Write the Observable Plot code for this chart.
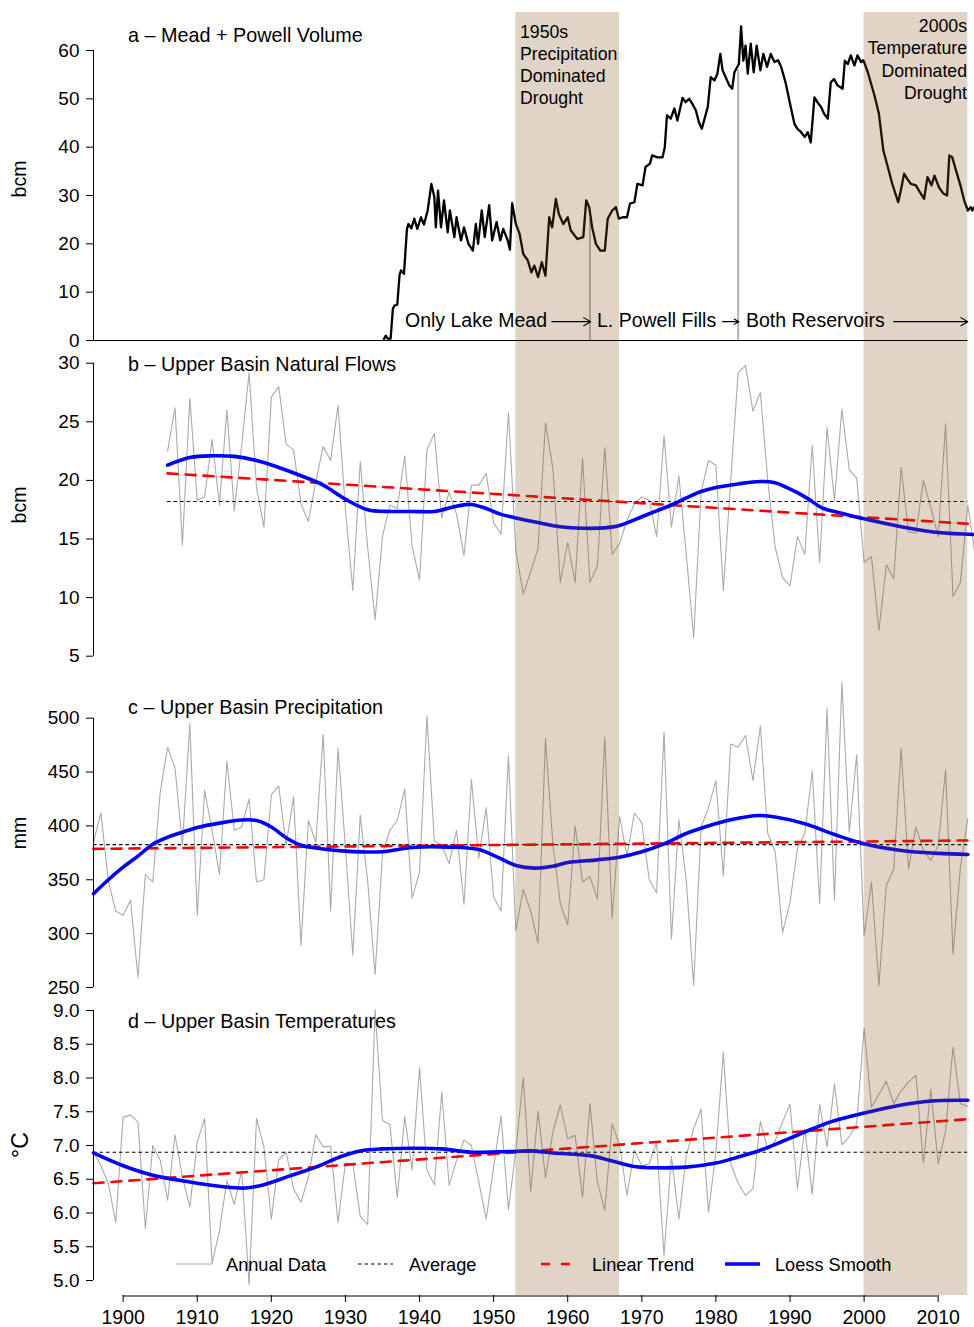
<!DOCTYPE html>
<html><head><meta charset="utf-8">
<script src="https://cdn.jsdelivr.net/npm/d3@7"></script>
<script src="https://cdn.jsdelivr.net/npm/@observablehq/plot@0.6"></script>
<style>
body{margin:0;background:#fff;}
#wrap{position:relative;width:974px;height:1327px;overflow:hidden;font-family:"Liberation Sans",Arial,Helvetica,sans-serif;color:#000;}
.t{position:absolute;white-space:nowrap;line-height:1;}
</style></head><body><div id="wrap"></div>
<script>
const FONT = '"Liberation Sans",Arial,Helvetica,sans-serif';

// ---------- data ----------
const bands = [{x1: 1953, x2: 1967}, {x1: 2000, x2: 2014}];

// a: Mead + Powell volume (bcm), [year, value]
const volume = [[1935.2,0.3],[1935.45,1.0],[1935.7,0.4],[1936.1,0.4],[1936.4,6.5],[1936.6,7.2],[1937.0,7.4],[1937.3,13.5],[1937.5,14.5],[1937.9,13.8],[1938.3,23.0],[1938.5,24.1],[1938.9,23.2],[1939.3,25.2],[1939.7,23.1],[1940.2,25.5],[1940.6,24.0],[1941.1,26.9],[1941.6,32.4],[1942.0,29.7],[1942.2,23.4],[1942.5,31.0],[1942.9,23.4],[1943.3,29.0],[1943.8,22.4],[1944.1,26.9],[1944.7,21.4],[1945.0,25.5],[1945.6,20.7],[1946.0,23.4],[1946.6,20.0],[1947.2,18.6],[1947.6,24.1],[1947.9,20.0],[1948.4,26.9],[1948.8,21.4],[1949.4,28.0],[1949.8,20.7],[1950.4,24.5],[1950.9,20.7],[1951.3,23.1],[1951.9,20.7],[1952.2,18.8],[1952.5,28.4],[1953.0,24.1],[1953.5,22.1],[1954.0,17.9],[1954.6,16.6],[1955.1,14.1],[1955.5,15.5],[1956.0,13.1],[1956.5,16.2],[1957.0,13.4],[1957.5,25.5],[1957.9,23.4],[1958.4,29.3],[1958.8,26.2],[1959.4,24.1],[1960.0,25.5],[1960.4,22.8],[1961.3,21.0],[1962.1,21.4],[1962.5,29.0],[1962.9,27.6],[1963.3,23.4],[1963.8,20.0],[1964.4,18.6],[1965.0,18.6],[1965.4,25.2],[1966.0,26.9],[1966.5,27.6],[1966.9,25.2],[1967.4,25.5],[1968.0,25.5],[1968.4,28.3],[1969.0,28.6],[1969.4,32.4],[1970.1,32.1],[1970.5,35.9],[1971.1,36.6],[1971.4,38.3],[1972.1,37.9],[1972.8,37.9],[1973.1,40.0],[1973.4,46.6],[1973.9,45.9],[1974.4,48.0],[1974.8,45.5],[1975.5,50.2],[1975.9,49.3],[1976.4,50.0],[1976.8,49.0],[1977.3,47.6],[1977.7,45.2],[1978.1,43.8],[1978.4,45.5],[1978.9,48.3],[1979.3,54.5],[1979.8,53.8],[1980.2,55.2],[1980.6,59.3],[1980.9,55.9],[1981.3,54.5],[1981.8,52.8],[1982.2,52.1],[1982.5,55.5],[1983.1,57.2],[1983.4,65.0],[1983.7,57.9],[1984.0,61.0],[1984.3,55.2],[1984.7,61.4],[1985.1,55.5],[1985.5,61.0],[1986.0,55.9],[1986.4,59.3],[1986.9,56.6],[1987.4,59.3],[1987.9,57.6],[1988.4,58.0],[1988.8,56.6],[1989.4,53.4],[1990.1,48.3],[1990.6,44.8],[1991.0,43.8],[1991.5,43.1],[1992.0,42.1],[1992.4,43.1],[1992.8,41.0],[1993.3,50.3],[1993.7,49.3],[1994.2,48.3],[1994.6,46.9],[1995.1,45.9],[1995.5,53.4],[1995.95,54.1],[1996.4,52.8],[1997.1,52.1],[1997.4,57.9],[1997.8,57.2],[1998.2,59.0],[1998.7,56.9],[1999.1,59.0],[1999.6,57.6],[1999.9,58.0],[2000.5,55.5],[2001.4,50.7],[2002.0,46.9],[2002.6,39.3],[2003.2,35.9],[2003.8,32.4],[2004.6,28.6],[2004.95,31.0],[2005.4,34.5],[2005.85,33.4],[2006.3,32.4],[2007.0,32.1],[2007.4,31.0],[2008.1,29.3],[2008.55,33.8],[2009.1,32.1],[2009.5,34.1],[2010.1,31.7],[2010.7,30.4],[2011.2,30.0],[2011.5,38.3],[2011.9,37.9],[2012.4,35.2],[2013.0,32.1],[2013.5,29.0],[2014.0,26.9],[2014.4,27.6],[2014.6,26.9],[2014.8,27.5]];
const powellMarks = [{year: 1963, v: 25}, {year: 1983, v: 56}];
const arrowsA = [{x1: 1957.85, x2: 1963.1, y: 3.9}, {x1: 1980.9, x2: 1983.1, y: 3.9}, {x1: 2004.0, x2: 2014.0, y: 3.9}];

// b: Upper Basin natural flows (bcm), 1906-2015
const flowStart = 1906;
const flows = [22.5,26.2,14.5,27.0,18.3,18.6,23.5,17.9,26.0,17.4,23.0,29.2,19.4,16.0,27.1,28.0,23.1,22.6,18.0,16.5,19.9,22.9,21.7,26.4,17.5,10.6,21.6,14.3,8.1,15.2,17.9,17.6,22.1,14.4,11.5,22.6,24.0,16.8,19.0,17.1,13.6,19.6,19.6,20.6,16.4,15.4,25.8,14.0,10.3,12.2,14.2,24.9,21.0,11.3,14.7,11.3,21.9,11.3,12.7,22.8,13.7,14.6,16.6,18.0,18.6,18.3,15.2,23.8,16.0,20.4,13.7,6.6,19.0,21.7,21.3,10.6,20.0,29.2,29.8,25.9,27.5,20.0,14.3,11.7,11.0,15.2,13.7,23.0,13.0,24.5,18.3,26.1,20.9,20.2,13.0,13.5,7.2,12.8,11.6,21.1,15.6,15.5,20.0,17.7,15.2,24.8,10.1,11.3,17.9,13.5];
const flowSmooth = [[1906,21.3],[1909,21.95],[1912,22.1],[1915,22.05],[1918,21.7],[1921,21.1],[1924,20.4],[1927,19.6],[1930,18.4],[1933,17.5],[1936,17.35],[1939,17.35],[1942,17.35],[1945,17.8],[1947,17.95],[1949,17.6],[1951,17.1],[1953,16.8],[1956,16.4],[1959,16.05],[1962,15.92],[1965,15.95],[1967,16.15],[1970,16.9],[1972,17.4],[1974,17.9],[1976,18.5],[1978,19.05],[1980,19.4],[1983,19.7],[1986,19.9],[1988,19.8],[1989.5,19.4],[1991,18.95],[1992.5,18.4],[1994.3,17.66],[1997,17.2],[2000,16.72],[2005,16.05],[2010,15.55],[2015,15.38]];
const flowTrend = [[1906,20.6],[2014,16.3]];
const flowAvg = 18.2;

// c: Upper Basin precipitation (mm), 1896-2014
const precStart = 1896;
const precip = [385,412,349,321,317,331,259,355,348,431,473,454,382,495,317,433,396,355,460,396,399,425,348,350,429,437,382,427,289,405,385,485,321,472,380,280,410,349,262,374,396,405,434,333,357,502,386,382,365,396,327,443,370,417,334,321,465,303,341,321,291,481,383,328,308,400,348,353,332,482,314,409,372,412,403,350,338,487,295,406,349,252,399,417,442,354,476,473,484,442,493,393,376,301,329,379,393,451,328,509,331,533,394,466,298,348,252,345,360,472,360,399,377,368,382,452,281,362,407];
const precSmooth = [[1896,337],[1898,350],[1900,361.7],[1902,372],[1904,383],[1906,389.5],[1908,394.2],[1910,398.5],[1913,402.6],[1916,405.5],[1918,405],[1920,399],[1922,389],[1924,382],[1926,379.5],[1930,376.6],[1935,376],[1939,380],[1944,380.3],[1948,378],[1950.5,371],[1953,363.3],[1955.5,360.8],[1958,362.5],[1960,366],[1964,368.5],[1967,371],[1970,376],[1973,383.4],[1976,393],[1978.4,398.8],[1982,405.7],[1985.8,409.7],[1988,408.2],[1992,402],[1996,392],[2000,383.4],[2005,377.2],[2010,374.5],[2014,373.5]];
const precTrend = [[1896,378.7],[2014,386.5]];
const precAvg = 382.6;

// d: Upper Basin temperatures (°C), 1896-2014
const tempStart = 1896;
const temps = [6.90,6.70,6.44,5.86,7.42,7.45,7.35,5.77,7.00,6.78,6.19,7.16,6.53,6.09,7.05,7.40,5.25,5.74,6.48,6.13,6.63,4.94,7.40,6.98,5.91,6.79,6.90,6.36,6.16,6.53,7.16,6.98,6.99,5.86,6.74,6.73,5.95,5.83,9.01,7.37,7.31,6.23,7.43,6.64,8.15,6.64,6.42,7.79,6.41,6.78,7.08,7.00,6.46,5.91,6.68,7.44,6.05,6.93,8.01,6.32,7.51,6.52,7.20,7.60,7.10,7.15,6.23,7.62,6.46,6.04,7.32,7.01,6.26,6.93,6.70,6.73,7.05,5.37,6.84,5.91,6.85,7.25,7.54,6.01,6.90,8.38,6.73,6.44,6.26,6.36,7.36,6.94,7.07,7.35,7.61,6.36,7.25,6.28,7.61,6.98,7.91,7.01,7.13,7.32,8.74,7.57,7.76,7.95,7.62,7.81,7.94,8.04,6.74,7.83,6.73,7.22,8.46,7.62,7.58];
const tempSmooth = [[1896,6.89],[1900,6.7],[1904,6.56],[1909,6.46],[1913.5,6.39],[1916.5,6.37],[1919,6.42],[1922.5,6.55],[1926,6.68],[1929.5,6.84],[1932,6.92],[1935,6.95],[1940,6.96],[1943,6.95],[1947,6.9],[1952,6.91],[1955,6.92],[1958,6.89],[1963,6.85],[1966,6.77],[1969,6.69],[1972,6.67],[1976,6.68],[1980,6.74],[1983,6.83],[1986,6.93],[1988.5,7.04],[1992,7.2],[1995.5,7.35],[2000,7.48],[2004.5,7.59],[2009,7.66],[2014,7.67]];
const tempTrend = [[1896,6.44],[2014,7.39]];
const tempAvg = 6.9;

const xTicks = [1900,1910,1920,1930,1940,1950,1960,1970,1980,1990,2000,2010];
const yTicksA = [0,10,20,30,40,50,60];
const yTicksB = [5,10,15,20,25,30];
const yTicksC = [250,300,350,400,450,500];
const yTicksD = [5.0,5.5,6.0,6.5,7.0,7.5,8.0,8.5,9.0];

// ---------- helpers ----------
const wrap = document.getElementById("wrap");
const X = {domain: [1896, 2014.9], range: [93, 974]};
const pairs = a => a.map(([year, v]) => ({year, v}));
const series = (start, arr) => arr.map((v, i) => ({year: start + i, v}));
const GRAY = "#ababab", SHADE = "#7d4f11", SHADE_OP = 0.245;
const AVG_DASH = "3.5,3";

function style(top) {
  return {position: "absolute", left: "0px", top: top + "px", background: "transparent",
          overflow: "visible", fontFamily: FONT, fontSize: "19px", color: "#000", maxWidth: "none"};
}
function yAxis(ticks, fmt) {
  return [
    Plot.ruleX([1896], {y1: ticks[0], y2: ticks[ticks.length - 1], stroke: "#000", strokeWidth: 1}),
    Plot.axisY({anchor: "left", ticks, tickSize: 7, tickPadding: 7, fontSize: 19, label: null, tickFormat: fmt, stroke: "#000"})
  ];
}
function stdPanel({top, height, yDomain, yRange, annual, smooth, trend, avg, avgX, ticks, fmt}) {
  const svg = Plot.plot({
    width: 974, height, marginTop: 0, marginBottom: 0, marginLeft: 93, marginRight: 0,
    style: style(top),
    x: {...X, axis: null},
    y: {domain: yDomain, range: yRange},
    marks: [
      Plot.line(annual, {x: "year", y: "v", stroke: GRAY, strokeWidth: 1.1}),
      Plot.ruleY([avg], {x1: avgX[0], x2: avgX[1], stroke: "#000", strokeWidth: 1.2, strokeDasharray: AVG_DASH}),
      Plot.line(pairs(trend), {x: "year", y: "v", stroke: "#ff0000", strokeWidth: 2.6, strokeDasharray: "10,8"}),
      Plot.line(pairs(smooth), {x: "year", y: "v", stroke: "#0000ff", strokeWidth: 3.6, curve: "catmull-rom"}),
      Plot.barX(bands, {x1: "x1", x2: "x2", fill: SHADE, fillOpacity: SHADE_OP}),
      ...yAxis(ticks, fmt)
    ]
  });
  wrap.appendChild(svg);
}

// ---------- panel a ----------
wrap.appendChild(Plot.plot({
  width: 974, height: 345, marginTop: 12, marginBottom: 0, marginLeft: 93, marginRight: 0,
  style: style(0),
  x: {...X, axis: null},
  y: {domain: [0, 60], range: [340, 50]},
  marks: [
    Plot.ruleX(powellMarks, {x: "year", y1: 0, y2: "v", stroke: "#b5b5b5", strokeWidth: 2}),
    Plot.line(pairs(volume), {x: "year", y: "v", stroke: "#000", strokeWidth: 2.3}),
    Plot.barX(bands, {x1: "x1", x2: "x2", fill: SHADE, fillOpacity: SHADE_OP}),
    Plot.ruleY([0], {x1: 1896, x2: 2014, stroke: "#000", strokeWidth: 1.2}),
    Plot.arrow(arrowsA, {x1: "x1", x2: "x2", y1: "y", y2: "y", stroke: "#000", strokeWidth: 1.1, headLength: 11, headAngle: 60}),
    ...yAxis(yTicksA)
  ]
}));

// ---------- panel b ----------
stdPanel({top: 345, height: 340, yDomain: [5, 30], yRange: [310.7, 17.7],
  annual: series(flowStart, flows), smooth: flowSmooth, trend: flowTrend, avg: flowAvg, avgX: [1906, 2014], ticks: yTicksB});
// ---------- panel c ----------
stdPanel({top: 685, height: 315, yDomain: [250, 500], yRange: [302, 32.7],
  annual: series(precStart, precip), smooth: precSmooth, trend: precTrend, avg: precAvg, avgX: [1896, 2014], ticks: yTicksC});
// ---------- panel d ----------
stdPanel({top: 1000, height: 295, yDomain: [5, 9], yRange: [280, 10],
  annual: series(tempStart, temps), smooth: tempSmooth, trend: tempTrend, avg: tempAvg, avgX: [1896, 2014], ticks: yTicksD, fmt: d3.format(".1f")});

// ---------- x axis ----------
wrap.appendChild(Plot.plot({
  width: 974, height: 32, marginTop: 0, marginBottom: 32, marginLeft: 93, marginRight: 0,
  style: style(1295),
  x: X,
  y: {domain: [0, 1], range: [0.5, 0.5], axis: null},
  marks: [
    Plot.ruleY([0], {x1: xTicks[0], x2: xTicks[xTicks.length - 1], stroke: "#000", strokeWidth: 1}),
    Plot.axisX({anchor: "bottom", ticks: xTicks, tickSize: 7, tickPadding: 8, tickFormat: d => String(d), fontSize: 19.5, label: null})
  ]
}));

// ---------- text ----------
function txt(s, x, y, size, anchor = "start", extra = "") {
  const d = document.createElement("div");
  d.className = "t";
  const tx = anchor === "end" ? "-100%" : anchor === "middle" ? "-50%" : "0";
  d.style.cssText = `left:${x}px;top:${y}px;font-size:${size}px;transform:translate(${tx},-50%) ${extra};`;
  d.textContent = s;
  wrap.appendChild(d);
  return d;
}
function block(lines, x, top, size, lh, align) {
  const d = document.createElement("div");
  d.className = "t";
  d.style.cssText = `top:${top}px;font-size:${size}px;line-height:${lh}px;text-align:${align};` +
    (align === "right" ? `right:${974 - x}px;` : `left:${x}px;`);
  d.innerHTML = lines.join("<br>");
  wrap.appendChild(d);
}
const titles = [["a – Mead + Powell Volume", 36], ["b – Upper Basin Natural Flows", 365], ["c – Upper Basin Precipitation", 708], ["d – Upper Basin Temperatures", 1022]];
titles.forEach(([s, y]) => txt(s, 128, y, 19.8));
const yLabels = [["bcm", 179, 19.5], ["bcm", 505, 19.5], ["mm", 833, 19.5], ["°C", 1145, 23]];
yLabels.forEach(([s, y, sz]) => txt(s, 20, y, sz, "middle", "rotate(-90deg)"));

block(["1950s", "Precipitation", "Dominated", "Drought"], 520, 21, 17.7, 22, "left");
block(["2000s", "Temperature", "Dominated", "Drought"], 967, 15, 17.7, 22.4, "right");
txt("Only Lake Mead", 405, 321, 19.5);
txt("L. Powell Fills", 597, 321, 19.5);
txt("Both Reservoirs", 746, 321, 19.5);

// ---------- legend ----------
const legend = [
  {label: "Annual Data", x: 176, w: 36, tx: 226, stroke: GRAY, sw: 1.1, dash: ""},
  {label: "Average", x: 358, w: 35, tx: 409, stroke: "#000", sw: 1.2, dash: AVG_DASH},
  {label: "Linear Trend", x: 541, w: 31, tx: 592, stroke: "#ff0000", sw: 2.6, dash: "9,11"},
  {label: "Loess Smooth", x: 725, w: 35, tx: 775, stroke: "#0000ff", sw: 3.6, dash: ""}
];
legend.forEach(l => {
  const s = document.createElement("div");
  s.className = "t";
  s.style.cssText = `left:${l.x}px;top:1259px;width:${l.w}px;height:10px;`;
  s.innerHTML = `<svg width="${l.w}" height="10" style="display:block"><line x1="0" x2="${l.w}" y1="5" y2="5" stroke="${l.stroke}" stroke-width="${l.sw}" stroke-dasharray="${l.dash}"/></svg>`;
  wrap.appendChild(s);
  txt(l.label, l.tx, 1265, 18.2);
});
</script></body></html>
